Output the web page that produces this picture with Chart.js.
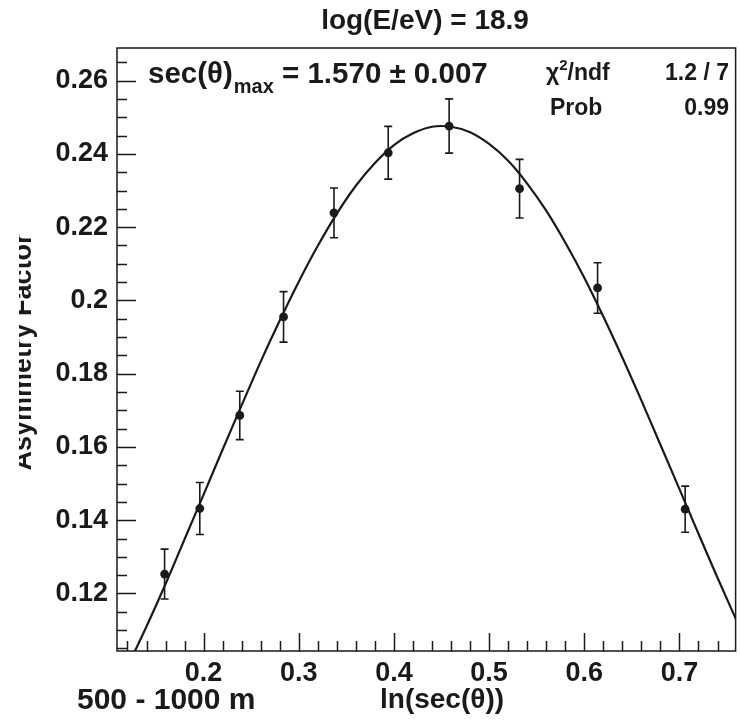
<!DOCTYPE html>
<html><head><meta charset="utf-8">
<script src="https://cdn.jsdelivr.net/npm/chart.js@4.4.1/dist/chart.umd.min.js"></script>
<style>html,body{margin:0;padding:0;background:#fff;}#wrap{width:740px;height:720px;position:relative;}</style>
</head><body><div id="wrap"><canvas id="c" width="740" height="720"></canvas></div>
<script>
// ---- data ----
const pointX   = [0.159, 0.196, 0.238, 0.284, 0.337, 0.394, 0.458, 0.532, 0.614, 0.706];
const pointY   = [0.1253, 0.1432, 0.1686, 0.1955, 0.2239, 0.2403, 0.2476, 0.2305, 0.2034, 0.1430];
const pointErr = [0.0068, 0.0071, 0.0066, 0.0069, 0.0068, 0.0072, 0.0074, 0.0080, 0.0069, 0.0063];
const fitX = [0.12, 0.14, 0.16, 0.18, 0.20, 0.22, 0.24, 0.26, 0.28, 0.30, 0.32, 0.34, 0.36, 0.38, 0.40, 0.42, 0.44,
              0.46, 0.48, 0.50, 0.52, 0.54, 0.56, 0.58, 0.60, 0.62, 0.64, 0.66, 0.68, 0.70, 0.72, 0.74, 0.76];
const fitY = [0.1000, 0.1110, 0.1226, 0.1348, 0.1470, 0.1593, 0.1714, 0.1833, 0.1945, 0.2051, 0.2149, 0.2237, 0.2313,
              0.2375, 0.2424, 0.2456, 0.2474, 0.2474, 0.2459, 0.2427, 0.2381, 0.2319, 0.2245, 0.2158, 0.2062, 0.1956,
              0.1844, 0.1727, 0.1606, 0.1485, 0.1363, 0.1243, 0.1126];
const xTickValues = [0.2, 0.3, 0.4, 0.5, 0.6, 0.7];
const xTickLabels = ['0.2', '0.3', '0.4', '0.5', '0.6', '0.7'];
const yTickValues = [0.12, 0.14, 0.16, 0.18, 0.20, 0.22, 0.24, 0.26];
const yTickLabels = ['0.12', '0.14', '0.16', '0.18', '0.2', '0.22', '0.24', '0.26'];
const titleText = 'log(E/eV) = 18.9';
const xTitle = 'ln(sec(\u03B8))';
const yTitle = 'Asymmetry Factor';
const rangeText = '500 - 1000 m';
const fitMain = 'sec(\u03B8)';
const fitSub = 'max';
const fitValue = ' = 1.570 \u00B1 0.007';
const statNames = ['ndf', 'Prob'];
const statValues = ['1.2 / 7', '0.99'];

const FONT = '"Liberation Sans", Arial, Helvetica, sans-serif';
const INK = '#1a1a1a';

const decor = {
  id: 'decor',
  beforeDatasetsDraw(chart) {
    const {ctx, scales: {x, y}} = chart;
    ctx.save();
    ctx.strokeStyle = INK; ctx.lineWidth = 1.6;
    pointX.forEach((px, i) => {
      const X = x.getPixelForValue(px);
      const y1 = y.getPixelForValue(pointY[i] + pointErr[i]);
      const y2 = y.getPixelForValue(pointY[i] - pointErr[i]);
      ctx.beginPath();
      ctx.moveTo(X, y1); ctx.lineTo(X, y2);
      ctx.moveTo(X - 4, y1); ctx.lineTo(X + 4, y1);
      ctx.moveTo(X - 4, y2); ctx.lineTo(X + 4, y2);
      ctx.stroke();
    });
    ctx.restore();
  },
  afterDraw(chart) {
    const {ctx, chartArea: a, scales: {x, y}} = chart;
    ctx.save();
    ctx.strokeStyle = INK; ctx.lineWidth = 1.5;
    ctx.strokeRect(a.left, a.top, a.right - a.left, a.bottom - a.top);
    ctx.beginPath();
    for (let k = 21; k <= 53; k++) {
      const v = k * 0.005;
      if (v < y.min || v > y.max) continue;
      const py = Math.round(y.getPixelForValue(v)) + 0.5;
      const len = (k % 4 === 0) ? 19 : 10;
      ctx.moveTo(a.left, py); ctx.lineTo(a.left + len, py);
    }
    for (let k = 5; k <= 38; k++) {
      const v = k * 0.02;
      if (v < x.min || v > x.max) continue;
      const px = Math.round(x.getPixelForValue(v)) + 0.5;
      const len = (k % 5 === 0) ? 18 : 10;
      ctx.moveTo(px, a.bottom); ctx.lineTo(px, a.bottom - len);
    }
    ctx.stroke();

    ctx.fillStyle = INK;
    ctx.font = 'bold 28px ' + FONT;
    ctx.textAlign = 'center'; ctx.textBaseline = 'alphabetic';
    ctx.fillText(titleText, 425, 29);
    ctx.textAlign = 'left';
    ctx.font = 'bold 29.5px ' + FONT;
    let tx = 148;
    ctx.fillText(fitMain, tx, 83); tx += ctx.measureText(fitMain).width;
    ctx.font = 'bold 20px ' + FONT;
    ctx.fillText(fitSub, tx + 1, 93); tx += ctx.measureText(fitSub).width + 1;
    ctx.font = 'bold 29.5px ' + FONT;
    ctx.fillText(fitValue, tx, 83);
    ctx.font = 'bold 23px ' + FONT;
    let sx = 546;
    ctx.fillText('\u03C7', sx, 80); sx += ctx.measureText('\u03C7').width;
    ctx.font = 'bold 15px ' + FONT;
    ctx.fillText('2', sx, 70); sx += ctx.measureText('2').width;
    ctx.font = 'bold 23px ' + FONT;
    ctx.fillText('/' + statNames[0], sx, 80);
    ctx.fillText(statNames[1], 550, 115);
    ctx.textAlign = 'right';
    ctx.fillText(statValues[0], 729, 80);
    ctx.fillText(statValues[1], 729, 115);
    ctx.textAlign = 'left';
    ctx.font = 'bold 30px ' + FONT;
    ctx.fillText(rangeText, 77, 709);
    ctx.font = 'bold 28px ' + FONT;
    ctx.fillText(xTitle, 380, 708);
    ctx.save();
    ctx.beginPath(); ctx.rect(19, 0, 100, 720); ctx.clip();
    ctx.translate(31, 352); ctx.rotate(-Math.PI / 2);
    ctx.textAlign = 'center';
    ctx.font = 'bold 27px ' + FONT;
    ctx.fillText(yTitle, 0, 0);
    ctx.restore();
    ctx.restore();
  }
};

new Chart(document.getElementById('c'), {
  type: 'scatter',
  data: {
    datasets: [
      { data: fitX.map((v, i) => ({x: v, y: fitY[i]})), showLine: true, borderColor: INK, borderWidth: 2.2,
        pointRadius: 0, tension: 0.3, fill: false, order: 2 },
      { data: pointX.map((v, i) => ({x: v, y: pointY[i]})), showLine: false, pointRadius: 4.4,
        backgroundColor: INK, borderColor: INK, borderWidth: 0, order: 1 }
    ]
  },
  options: {
    responsive: false, animation: false, devicePixelRatio: 1,
    layout: { padding: { top: 48, right: 3, left: 0, bottom: 0 } },
    plugins: { legend: { display: false }, tooltip: { enabled: false } },
    scales: {
      x: {
        type: 'linear', min: 0.109, max: 0.759,
        afterBuildTicks: s => { s.ticks = xTickValues.map(v => ({value: v})); },
        afterFit: s => { s.height = 69; },
        ticks: { callback: (v, i) => xTickLabels[i], font: { family: FONT, size: 27, weight: 'bold' }, color: INK,
                 padding: 6, maxRotation: 0, autoSkip: false },
        grid: { display: false, drawTicks: false }, border: { display: false }
      },
      y: {
        type: 'linear', min: 0.1043, max: 0.2689,
        afterBuildTicks: s => { s.ticks = yTickValues.map(v => ({value: v})); },
        afterFit: s => { s.width = 117; },
        ticks: { callback: (v, i) => yTickLabels[i], font: { family: FONT, size: 27, weight: 'bold' }, color: INK,
                 padding: 9, autoSkip: false },
        grid: { display: false, drawTicks: false }, border: { display: false }
      }
    }
  },
  plugins: [decor]
});
</script></body></html>
